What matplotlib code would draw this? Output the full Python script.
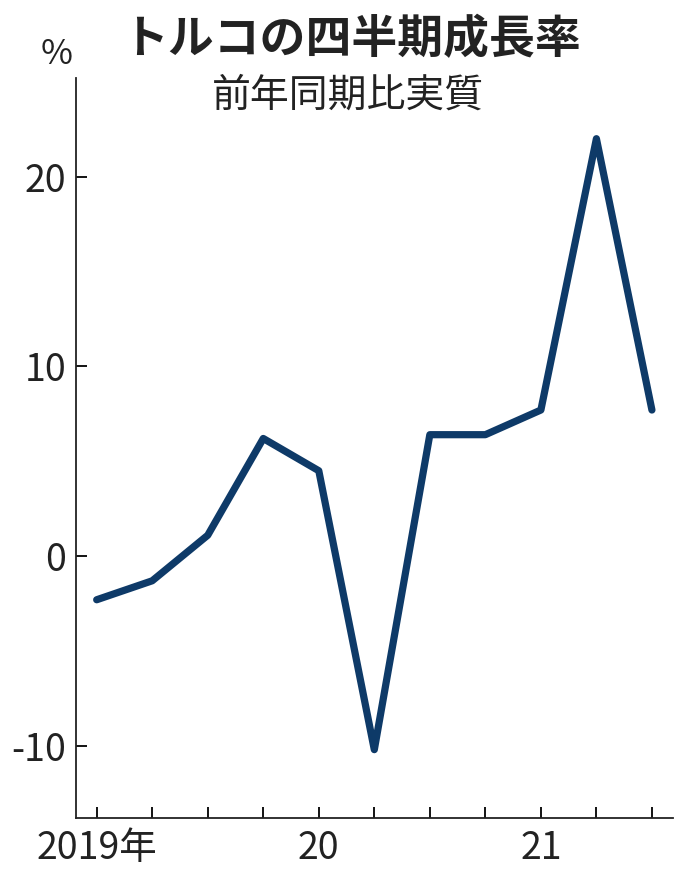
import matplotlib.pyplot as plt
import numpy as np

quarters = ["2019Q1", "2019Q2", "2019Q3", "2019Q4", "2020Q1", "2020Q2",
            "2020Q3", "2020Q4", "2021Q1", "2021Q2", "2021Q3"]
growth = [-2.3, -1.3, 1.1, 6.2, 4.5, -10.2, 6.4, 6.4, 7.7, 22.0, 7.7]
y_ticks = [-10, 0, 10, 20]
x_labels = {0: "2019年", 4: "20", 8: "21"}

num_font = ["Liberation Sans Narrow", "Noto Sans CJK JP", "DejaVu Sans"]
jp_font = ["Noto Sans CJK JP", "DejaVu Sans"]

fig = plt.figure(figsize=(6.96, 8.82), dpi=100)
ax = fig.add_axes([0.109, 0.0726, 0.858, 0.839])

x = np.arange(len(growth))
ax.plot(x, growth, color="#0e3a68", linewidth=5.2,
        solid_capstyle="round", solid_joinstyle="round")

ax.set_xlim(-0.375, 10.38)
ax.set_ylim(-13.8, 25.2)

ax.set_yticks(y_ticks)
ax.set_yticklabels([str(v) for v in y_ticks], family=num_font, fontsize=27,
                   color="#222222")
ax.set_xticks(x)
ax.set_xticklabels([x_labels.get(i, "") for i in x], family=num_font,
                   fontsize=27, color="#222222")

ax.tick_params(axis="y", direction="in", length=8, width=1.3, pad=7)
ax.tick_params(axis="x", direction="in", length=8, width=1.3, pad=8)

for side in ["top", "right"]:
    ax.spines[side].set_visible(False)
for side in ["left", "bottom"]:
    ax.spines[side].set_linewidth(1.3)
    ax.spines[side].set_color("#222222")

fig.text(0.505, 0.955, "トルコの四半期成長率", family=jp_font, fontsize=33,
         fontweight="bold", ha="center", va="center", color="#222222")
fig.text(0.5, 0.892, "前年同期比実質", family=jp_font, fontsize=28,
         ha="center", va="center", color="#222222")
fig.text(0.082, 0.938, "%", family=num_font, fontsize=25,
         ha="center", va="center", color="#222222")

fig.savefig("out.png", dpi=100)
